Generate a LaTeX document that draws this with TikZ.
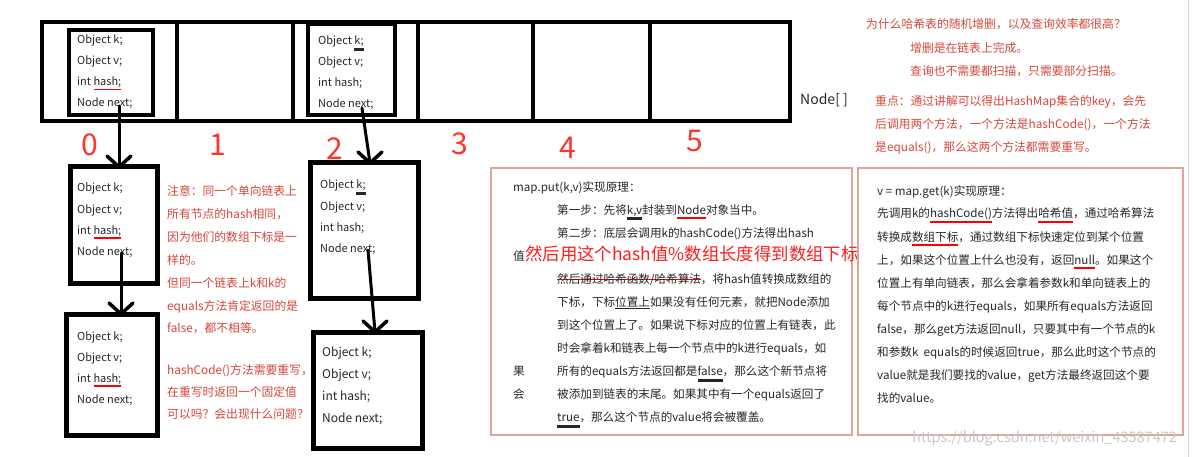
\documentclass[tikz,border=0pt]{standalone}
\usepackage{fontspec}
\setmainfont{Noto Sans CJK SC}
\usetikzlibrary{arrows.meta}

\definecolor{notered}{RGB}{214,70,58}
\definecolor{bigred}{RGB}{255,30,30}
\definecolor{idxred}{RGB}{255,52,44}
\definecolor{framepink}{RGB}{222,165,157}
\definecolor{inkgray}{RGB}{38,38,38}

% hand-drawn marks under / through words
\newsavebox{\markbox}
\newcommand{\redul}[1]{\sbox{\markbox}{#1}\rlap{\textcolor{red}{\rule[-4.5pt]{\wd\markbox}{1.4pt}}}\usebox{\markbox}}
\newcommand{\inkul}[1]{\sbox{\markbox}{#1}\rlap{\rule[-6.5pt]{\wd\markbox}{3pt}}\usebox{\markbox}}
\newcommand{\thinul}[1]{\sbox{\markbox}{#1}\rlap{\rule[-3pt]{\wd\markbox}{0.7pt}}\usebox{\markbox}}
\newcommand{\redstrike}[1]{\sbox{\markbox}{#1}\rlap{\textcolor{red}{\rule[3pt]{\wd\markbox}{1pt}}}\usebox{\markbox}}
\newcommand{\gutter}[1]{\makebox[44pt][l]{#1}}

\tikzset{
  slot/.style={draw, line width=4pt, minimum height=99pt, inner sep=0pt, outer sep=0pt},
  entry/.style={draw, line width=4pt, inner sep=0pt, outer sep=0pt},
  linkbox/.style={draw, line width=5pt, inner sep=0pt, outer sep=0pt},
  field/.style={anchor=base west, inner sep=0pt, text=inkgray},
  idx/.style={text=idxred, font=\fontsize{30}{32}\selectfont, inner sep=0pt},
  link/.style={line width=3pt, line cap=round},
  barb/.style={line width=3.5pt, line cap=round, line join=round},
  note/.style={anchor=base west, inner sep=0pt, text=notered, font=\fontsize{11.8}{14}\selectfont},
  body/.style={anchor=base west, inner sep=0pt, text=inkgray, font=\fontsize{11.6}{14}\selectfont},
  pinkframe/.style={draw=framepink, line width=1.2pt},
}

% name, x, first baseline, gap, size, lines
\newcommand{\fieldlines}[6]{%
  \foreach \fline [count=\j from 0] in {#6}
    \node[field, font=\fontsize{#5}{14}\selectfont] (#1\j) at (#2,{#3+#4*\j}) {\fline};}
% open V head at a named point
\newcommand{\vhead}[1]{\draw[barb] ([shift={(-12,-11)}]#1) -- (#1) -- ([shift={(12,-11)}]#1);}

\begin{document}
\begin{tikzpicture}[x=1pt, y=-1pt]
\useasboundingbox (0,0) rectangle (1193,457);

% the table
\foreach \cx/\w [count=\i from 0] in {109.5/135, 235/116, 355.5/125, 475.5/115, 591.5/117, 720/140}
  \node[slot, minimum width=\w pt] (cell\i) at (\cx,71.5) {};
\node[anchor=west, inner sep=0pt, text=inkgray, font=\fontsize{14}{16}\selectfont] (tablename) at (800,100) {Node[ ]};
\foreach \ix/\px/\py in {0/90/145, 1/218/145, 2/335/149, 3/460/144, 4/568/148, 5/695/141}
  \node[idx] (idx\ix) at (\px,\py) {\ix};

% entries
\node[entry, minimum width=84pt, minimum height=85pt] (entry0) at (111,72.5) {};
\node[entry, minimum width=87pt, minimum height=91pt] (entry2) at (351.5,69.5) {};
\fieldlines{ef0}{77}{44}{21}{11}{Object k;, Object v;, int \redul{hash;}, Node next;}
\fieldlines{ef2}{318}{45}{21}{11}{Object \inkul{k;}, Object v;, int hash;, Node next;}

\node[linkbox, minimum width=87pt, minimum height=116pt] (link00) at (113.5,225) {};
\node[linkbox, minimum width=91pt, minimum height=121pt] (link01) at (111.5,374.5) {};
\node[linkbox, minimum width=108pt, minimum height=135pt] (link20) at (364,230.5) {};
\node[linkbox, minimum width=109pt, minimum height=116pt] (link21) at (367.5,390) {};
\fieldlines{lf00}{77}{192}{21}{11}{Object k;, Object v;, int \redul{hash;}, Node next;}
\fieldlines{lf01}{77}{340}{21}{11}{Object k;, Object v;, int \redul{hash;}, Node next;}
\fieldlines{lf20}{320}{189}{21}{11}{Object \inkul{k;}, Object v;, int hash;, Node next;}
\fieldlines{lf21}{322}{356}{22.3}{12}{Object k;, Object v;, int hash;, Node next;}

\coordinate (next0) at (119,106);
\coordinate (next00) at (121,253);
\coordinate (next2) at (362,108);
\coordinate (next20) at (368,250);
\coordinate (tip0) at (next0 |- link00.north);
\coordinate (tip00) at (next00 |- link01.north);
\coordinate (tip2) at ([xshift=6pt]link20.north);
\coordinate (tip20) at ([xshift=7.5pt]link21.north);
\foreach \a/\b in {next0/tip0, next00/tip00, next2/tip2, next20/tip20} {
  \draw[link] (\a) -- (\b);
  \vhead{\b}
}

% notes on the left
\foreach \ln [count=\i from 0] in {注意：同一个单向链表上, 所有节点的hash相同，, 因为他们的数组下标是一, 样的。, 但同一个链表上k和k的, equals方法肯定返回的是, false，都不相等。}
  \node[note] (warn\i) at (167,{196+22.8*\i}) {\ln};
\foreach \ln [count=\i from 0] in {hashCode()方法需要重写，, 在重写时返回一个固定值, 可以吗？会出现什么问题？}
  \node[note] (ask\i) at (167,{374+22*\i}) {\ln};

% notes top right
\node[note] (why) at (866,29) {为什么哈希表的随机增删，以及查询效率都很高？};
\node[note] (why1) at (910,53) {增删是在链表上完成。};
\node[note] (why2) at (910,76) {查询也不需要都扫描，只需要部分扫描。};
\foreach \ln [count=\i from 0] in {重点：通过讲解可以得出HashMap集合的key，会先, 后调用两个方法，一个方法是hashCode()，一个方法, 是equals()，那么这两个方法都需要重写。}
  \node[note] (key\i) at (875,{106+23*\i}) {\ln};

% map.put
\draw[pinkframe] (491,168) rectangle (852,435);
\foreach \ln [count=\i from 0] in {
    {map.put(k,v)实现原理：},
    {\gutter{}第一步：先将\inkul{k,v}封装到\redul{Node}对象当中。},
    {\gutter{}第二步：底层会调用k的hashCode()方法得出hash},
    {\makebox[12pt][l]{值}{\color{bigred}\fontsize{17.4}{20}\selectfont 然后用这个hash值\%数组长度得到数组下标}},
    {\gutter{}\redstrike{然后通过哈希函数/哈希算法}，将hash值转换成数组的},
    {\gutter{}下标，下标\thinul{位置上}如果没有任何元素，就把Node添加},
    {\gutter{}到这个位置上了。如果说下标对应的位置上有链表，此},
    {\gutter{}时会拿着k和链表上每一个节点中的k进行equals，如},
    {\gutter{果}所有的equals方法返回都是\inkul{false}，那么这个新节点将},
    {\gutter{会}被添加到链表的末尾。如果其中有一个equals返回了},
    {\gutter{}\inkul{true}，那么这个节点的value将会被覆盖。}}
  \node[body] (put\i) at (513,{191+23*\i}) {\ln};

% map.get
\draw[pinkframe] (858,168) rectangle (1183,435);
\foreach \ln [count=\i from 0] in {
    {v = map.get(k)实现原理：},
    {先调用k的\redul{hashCode()}方法得出\redul{哈希值}，通过哈希算法},
    {转换成\redul{数组下标}，通过数组下标快速定位到某个位置},
    {上，如果这个位置上什么也没有，返回\redul{null}。如果这个},
    {位置上有单向链表，那么会拿着参数k和单向链表上的},
    {每个节点中的k进行equals，如果所有equals方法返回},
    {false，那么get方法返回null，只要其中有一个节点的k},
    {和参数k\ \ equals的时候返回true，那么此时这个节点的},
    {value就是我们要找的value，get方法最终返回这个要},
    {找的value。}}
  \node[body] (get\i) at (877,{195+23*\i}) {\ln};

\node[anchor=base west, inner sep=0pt, text=black!22, font=\fontsize{14.5}{16}\selectfont] (mark) at (912,442) {https://blog.csdn.net/weixin\_43587472};
\draw[black!18, line width=1pt] (1188,0) -- (1188,457);
\end{tikzpicture}
\end{document}
